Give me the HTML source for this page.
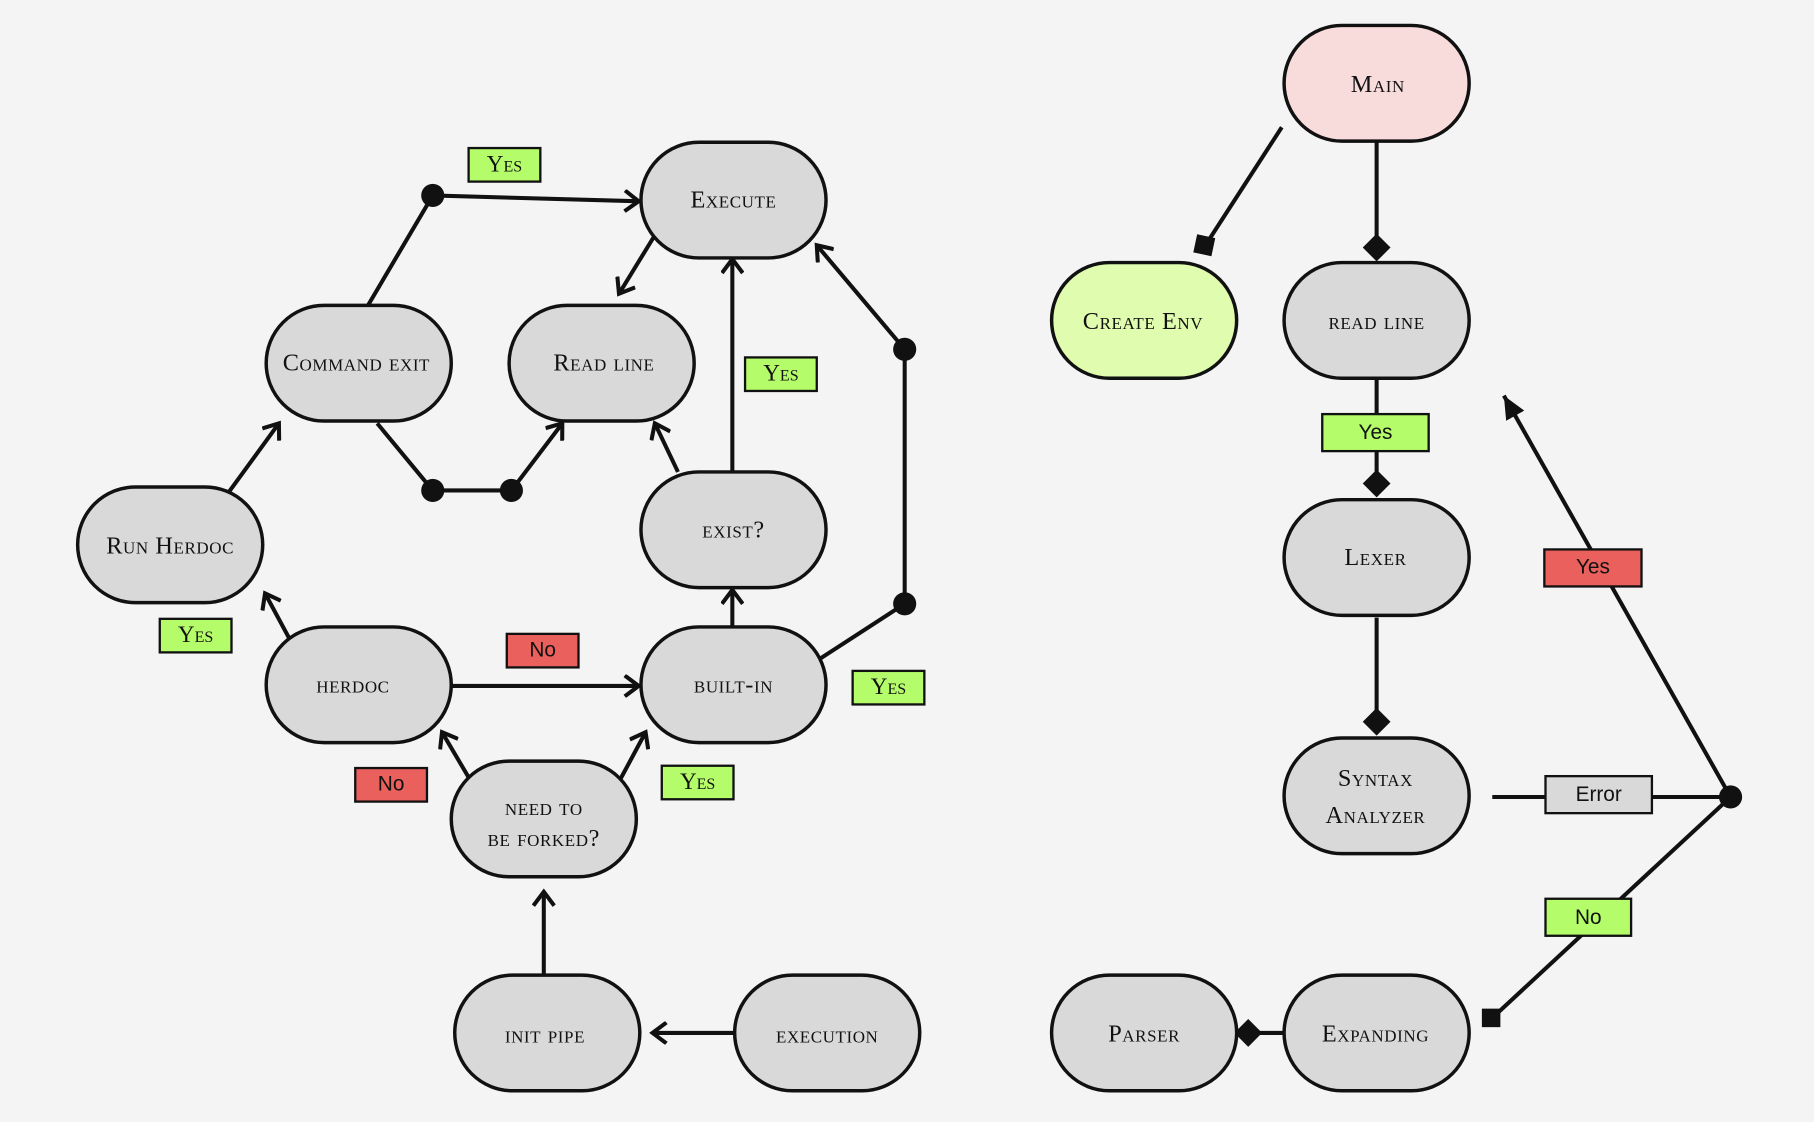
<!DOCTYPE html>
<html><head><style>
html,body{margin:0;padding:0;background:#f4f4f4;}
svg{display:block;}
.n{stroke:#111;stroke-width:3;fill:#d9d9d9;}
.t{font-family:"Liberation Serif",serif;font-variant:small-caps;font-size:21px;fill:#111;text-anchor:middle;dominant-baseline:central;letter-spacing:0.5px;}
.l{stroke:#111;stroke-width:3.5;fill:none;}
.a{stroke:#111;stroke-width:3.5;fill:none;stroke-linecap:square;}
.ly{fill:#b5fc6a;stroke:#111;stroke-width:2;}
.lr{fill:#ea605c;stroke:#111;stroke-width:2;}
.lg{fill:#d9d9d9;stroke:#111;stroke-width:2;}
.s{font-family:"Liberation Sans",sans-serif;font-size:18px;fill:#111;text-anchor:middle;dominant-baseline:central;}
.sc{font-family:"Liberation Serif",serif;font-variant:small-caps;font-size:20px;fill:#111;text-anchor:middle;dominant-baseline:central;}
</style></head><body>
<svg width="1814" height="1122" viewBox="0 0 1568 970" xmlns="http://www.w3.org/2000/svg">
<rect width="1568" height="970" fill="#f4f4f4"/>
<defs>
<marker id="o" markerWidth="20" markerHeight="20" refX="14" refY="10" orient="auto" markerUnits="userSpaceOnUse">
<path d="M2,1 L14,10 L2,19" fill="none" stroke="#111" stroke-width="3.5"/></marker>
<marker id="f" markerWidth="24" markerHeight="24" refX="20" refY="12" orient="auto" markerUnits="userSpaceOnUse">
<path d="M0,3 L20,12 L0,21 Z" fill="#111"/></marker>
</defs>
<!-- left edges -->
<polyline class="l" points="318,264 374,169 552,174" marker-end="url(#o)"/>
<line class="l" x1="565" y1="205" x2="535" y2="254" marker-end="url(#o)"/>
<polyline class="l" points="326,366 374,424 442,424 486,366" marker-end="url(#o)"/>
<line class="l" x1="586" y1="408" x2="566" y2="366" marker-end="url(#o)"/>
<line class="l" x1="633" y1="408" x2="633" y2="224" marker-end="url(#o)"/>
<polyline class="l" points="708,570 782,522 782,302 706,212" marker-end="url(#o)"/>
<line class="l" x1="633" y1="542" x2="633" y2="510" marker-end="url(#o)"/>
<line class="l" x1="390" y1="593" x2="552" y2="593" marker-end="url(#o)"/>
<line class="l" x1="250" y1="552" x2="229" y2="513" marker-end="url(#o)"/>
<line class="l" x1="198" y1="425" x2="241" y2="366" marker-end="url(#o)"/>
<line class="l" x1="405" y1="672" x2="382" y2="633" marker-end="url(#o)"/>
<line class="l" x1="536" y1="674" x2="558" y2="633" marker-end="url(#o)"/>
<line class="l" x1="470" y1="843" x2="470" y2="771" marker-end="url(#o)"/>
<line class="l" x1="635" y1="893" x2="564" y2="893" marker-end="url(#o)"/>
<g fill="#111"><circle cx="374" cy="169" r="10"/><circle cx="374" cy="424" r="10"/><circle cx="442" cy="424" r="10"/><circle cx="782" cy="522" r="10"/><circle cx="782" cy="302" r="10"/><circle cx="1496" cy="689" r="10"/></g>
<!-- right edges -->
<line class="l" x1="1108" y1="110" x2="1042" y2="212"/>
<rect x="1033" y="204" width="16" height="16" fill="#111" transform="rotate(12 1041 212)"/>
<line class="l" x1="1190" y1="122" x2="1190" y2="214"/>
<line class="l" x1="1190" y1="328" x2="1190" y2="418"/>
<line class="l" x1="1190" y1="534" x2="1190" y2="624"/>
<line class="l" x1="1290" y1="689" x2="1496" y2="689"/>
<line class="l" x1="1496" y1="689" x2="1300" y2="342" marker-end="url(#f)"/>
<line class="l" x1="1496" y1="689" x2="1290" y2="880"/>
<rect x="1281" y="872" width="16" height="16" fill="#111"/>
<line class="l" x1="1110" y1="893" x2="1070" y2="893"/>
<g fill="#111">
<path d="M1190,202 L1202,214 L1190,226 L1178,214 Z"/>
<path d="M1190,406 L1202,418 L1190,430 L1178,418 Z"/>
<path d="M1190,612 L1202,624 L1190,636 L1178,624 Z"/>
<path d="M1079,881 L1091,893 L1079,905 L1067,893 Z"/>
</g>
<!-- nodes -->
<g>
<rect class="n" x="554" y="123" width="160" height="100" rx="50"/><text class="t" x="634" y="173">Execute</text>
<rect class="n" x="230" y="264" width="160" height="100" rx="50"/><text class="t" x="308" y="314">Command exit</text>
<rect class="n" x="440" y="264" width="160" height="100" rx="50"/><text class="t" x="522" y="314">Read line</text>
<rect class="n" x="67" y="421" width="160" height="100" rx="50"/><text class="t" x="147" y="472">Run Herdoc</text>
<rect class="n" x="554" y="408" width="160" height="100" rx="50"/><text class="t" x="634" y="458">exist?</text>
<rect class="n" x="230" y="542" width="160" height="100" rx="50"/><text class="t" x="305" y="592">herdoc</text>
<rect class="n" x="554" y="542" width="160" height="100" rx="50"/><text class="t" x="634" y="592">built-in</text>
<rect class="n" x="390" y="658" width="160" height="100" rx="50"/><text class="t" x="470" y="698">need to</text><text class="t" x="470" y="725">be forked?</text>
<rect class="n" x="393" y="843" width="160" height="100" rx="50"/><text class="t" x="471" y="895">init pipe</text>
<rect class="n" x="635" y="843" width="160" height="100" rx="50"/><text class="t" x="715" y="895">execution</text>
<rect class="n" x="1110" y="22" width="160" height="100" rx="50" style="fill:#f8dcdc"/><text class="t" x="1191" y="73">Main</text>
<rect class="n" x="909" y="227" width="160" height="100" rx="50" style="fill:#e0fcae"/><text class="t" x="988" y="278">Create Env</text>
<rect class="n" x="1110" y="227" width="160" height="100" rx="50"/><text class="t" x="1190" y="278">read line</text>
<rect class="n" x="1110" y="432" width="160" height="100" rx="50"/><text class="t" x="1189" y="482">Lexer</text>
<rect class="n" x="1110" y="638" width="160" height="100" rx="50"/><text class="t" x="1189" y="673">Syntax</text><text class="t" x="1189" y="705">Analyzer</text>
<rect class="n" x="909" y="843" width="160" height="100" rx="50"/><text class="t" x="989" y="894">Parser</text>
<rect class="n" x="1110" y="843" width="160" height="100" rx="50"/><text class="t" x="1189" y="894">Expanding</text>
</g>
<!-- labels -->
<rect class="ly" x="405" y="128" width="62" height="29"/><text class="sc" x="436" y="142">Yes</text>
<rect class="ly" x="644" y="309" width="62" height="29"/><text class="sc" x="675" y="323">Yes</text>
<rect class="ly" x="138" y="535" width="62" height="29"/><text class="sc" x="169" y="549">Yes</text>
<rect class="ly" x="737" y="580" width="62" height="29"/><text class="sc" x="768" y="594">Yes</text>
<rect class="ly" x="572" y="662" width="62" height="29"/><text class="sc" x="603" y="676">Yes</text>
<rect class="lr" x="438" y="548" width="62" height="29"/><text class="s" x="469" y="562">No</text>
<rect class="lr" x="307" y="664" width="62" height="29"/><text class="s" x="338" y="678">No</text>
<rect class="ly" x="1143" y="358" width="92" height="32"/><text class="s" x="1189" y="374">Yes</text>
<rect class="lg" x="1336" y="671" width="92" height="32"/><text class="s" x="1382" y="687">Error</text>
<rect class="lr" x="1335" y="475" width="84" height="32"/><text class="s" x="1377" y="490">Yes</text>
<rect class="ly" x="1336" y="777" width="74" height="32"/><text class="s" x="1373" y="793">No</text>
</svg>
</body></html>
